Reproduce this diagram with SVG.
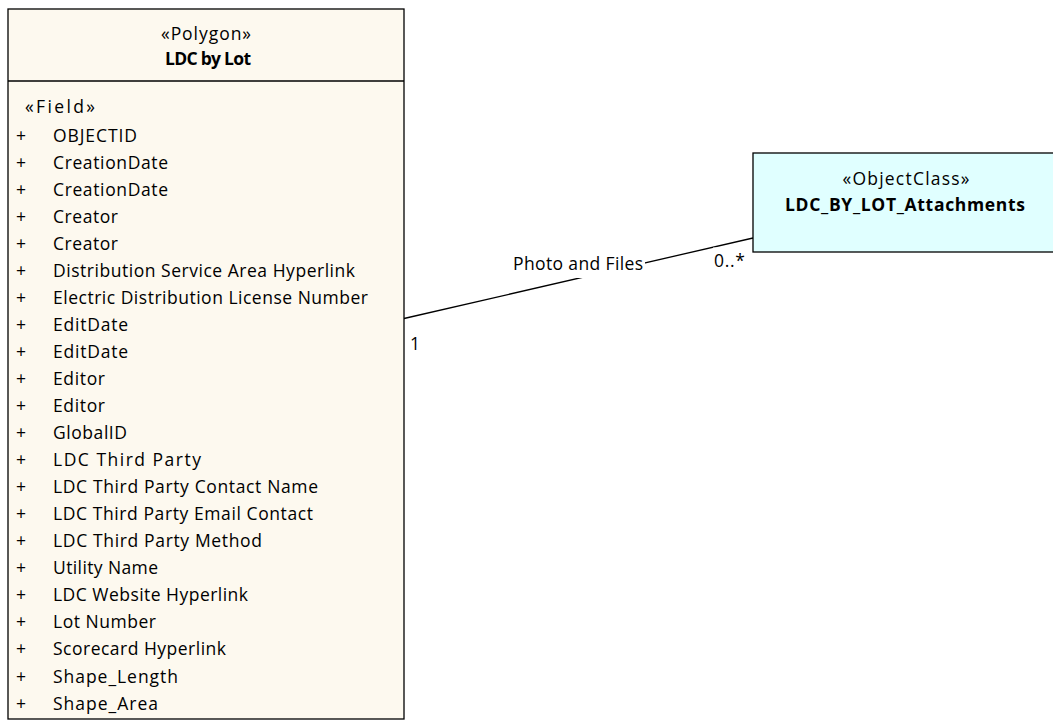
<svg xmlns="http://www.w3.org/2000/svg" width="1053" height="727" viewBox="0 0 1053 727">
<style>
text{font-family:"Open Sans","Liberation Sans",sans-serif;font-size:17.5px;fill:#000}
.b{font-weight:700}
.box{stroke:#000;stroke-width:1.3}
.lot{fill:#FDF9EF}
.att{fill:#E0FFFF}
.ln{stroke:#000;stroke-width:1.3;fill:none}
</style>
<rect width="1053" height="727" fill="#fff"/>
<g id="connectors">
<line class="ln" x1="404" y1="318.5" x2="753" y2="238"/>
<rect x="511" y="253" width="134" height="25" fill="#fff"/>
<rect x="713" y="247.5" width="36" height="22" fill="#fff"/>
<text x="513" y="270" textLength="130">Photo and Files</text>
<text x="714" y="267" textLength="31">0..*</text>
<text x="410" y="350">1</text>
</g>
<g id="ldc_by_lot">
<rect class="box lot" x="8" y="9" width="396" height="710"/>
<line class="ln" x1="8" y1="81" x2="404" y2="81"/>
<text x="206" y="39.5" text-anchor="middle" textLength="90">«Polygon»</text>
<text class="b" x="208" y="64.5" text-anchor="middle" textLength="86">LDC by Lot</text>
<text x="25" y="113" textLength="70">«Field»</text>
<g>
<text x="16" y="141.5">+</text><text x="53" y="141.5" textLength="84">OBJECTID</text>
<text x="16" y="168.6">+</text><text x="53" y="168.6" textLength="115">CreationDate</text>
<text x="16" y="195.6">+</text><text x="53" y="195.6" textLength="115">CreationDate</text>
<text x="16" y="222.7">+</text><text x="53" y="222.7" textLength="65">Creator</text>
<text x="16" y="249.7">+</text><text x="53" y="249.7" textLength="65">Creator</text>
<text x="16" y="276.8">+</text><text x="53" y="276.8" textLength="302">Distribution Service Area Hyperlink</text>
<text x="16" y="303.8">+</text><text x="53" y="303.8" textLength="315">Electric Distribution License Number</text>
<text x="16" y="330.9">+</text><text x="53" y="330.9" textLength="75">EditDate</text>
<text x="16" y="357.9">+</text><text x="53" y="357.9" textLength="75">EditDate</text>
<text x="16" y="385">+</text><text x="53" y="385" textLength="52">Editor</text>
<text x="16" y="412">+</text><text x="53" y="412" textLength="52">Editor</text>
<text x="16" y="439">+</text><text x="53" y="439" textLength="74">GlobalID</text>
<text x="16" y="466.1">+</text><text x="53" y="466.1" textLength="148">LDC Third Party</text>
<text x="16" y="493.1">+</text><text x="53" y="493.1" textLength="265">LDC Third Party Contact Name</text>
<text x="16" y="520.2">+</text><text x="53" y="520.2" textLength="260">LDC Third Party Email Contact</text>
<text x="16" y="547.2">+</text><text x="53" y="547.2" textLength="209">LDC Third Party Method</text>
<text x="16" y="574.3">+</text><text x="53" y="574.3" textLength="105">Utility Name</text>
<text x="16" y="601.3">+</text><text x="53" y="601.3" textLength="195">LDC Website Hyperlink</text>
<text x="16" y="628.4">+</text><text x="53" y="628.4" textLength="103">Lot Number</text>
<text x="16" y="655.4">+</text><text x="53" y="655.4" textLength="173">Scorecard Hyperlink</text>
<text x="16" y="682.5">+</text><text x="53" y="682.5" textLength="125">Shape_Length</text>
<text x="16" y="709.5">+</text><text x="53" y="709.5" textLength="105">Shape_Area</text>
</g>
</g>
<g id="ldc_by_lot_attachments">
<rect class="box att" x="753" y="153" width="310" height="99"/>
<text x="906" y="185" text-anchor="middle" textLength="127">«ObjectClass»</text>
<text class="b" x="905" y="211" text-anchor="middle" textLength="240">LDC_BY_LOT_Attachments</text>
</g>
</svg>
